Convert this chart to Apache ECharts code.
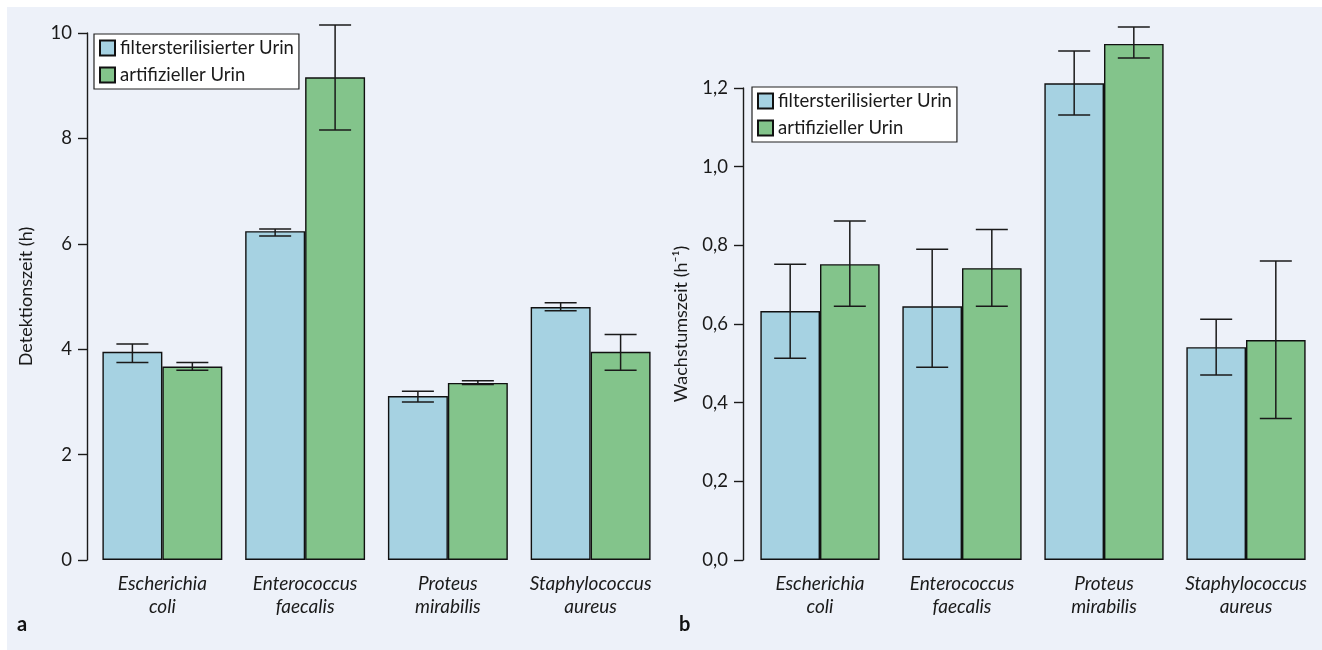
<!DOCTYPE html>
<html>
<head>
<meta charset="utf-8">
<script src="https://cdn.jsdelivr.net/npm/echarts@6/dist/echarts.min.js"></script>
<style>
  html, body { margin: 0; padding: 0; background: #fff; }
  #chart { width: 1322px; height: 650px; }
</style>
</head>
<body>
<div id="chart"></div>
<script>
// Kategorien (Bakterien)
var categories = ['Escherichia\ncoli', 'Enterococcus\nfaecalis', 'Proteus\nmirabilis', 'Staphylococcus\naureus'];
var seriesNames = ['filtersterilisierter Urin', 'artifizieller Urin'];

// Panel a: Detektionszeit (h)
var detFilter = [3.95, 6.24, 3.11, 4.80];
var detFilterLo = [3.75, 6.15, 3.00, 4.73];
var detFilterHi = [4.10, 6.28, 3.20, 4.88];
var detArtif = [3.67, 9.16, 3.36, 3.95];
var detArtifLo = [3.60, 8.16, 3.33, 3.60];
var detArtifHi = [3.75, 10.15, 3.40, 4.28];
var detTicks = [0, 2, 4, 6, 8, 10];

// Panel b: Wachstumszeit (h^-1)
var wachFilter = [0.633, 0.645, 1.212, 0.541];
var wachFilterLo = [0.513, 0.490, 1.131, 0.470];
var wachFilterHi = [0.752, 0.790, 1.294, 0.612];
var wachArtif = [0.752, 0.742, 1.312, 0.559];
var wachArtifLo = [0.645, 0.645, 1.276, 0.360];
var wachArtifHi = [0.862, 0.840, 1.355, 0.760];
var wachTicks = [0, 0.2, 0.4, 0.6, 0.8, 1.0, 1.2];

var BLUE = '#a6d2e2';
var GREEN = '#83c48b';
var FONT = 'Lato';
var INK = '#1a1a1a';
var GAP = 0.16; // barCategoryGap

var chart = echarts.init(document.getElementById('chart'));

// Fehlerbalken als custom series, side: -1 = linker Balken, +1 = rechter Balken
function errorSeries(name, lo, hi, side, xIdx, yIdx) {
    var data = [];
    for (var i = 0; i < lo.length; i++) {
        data.push([i, lo[i], hi[i]]);
    }
    return {
        name: name + '_err',
        type: 'custom',
        xAxisIndex: xIdx,
        yAxisIndex: yIdx,
        clip: false,
        silent: true,
        z: 5,
        data: data,
        renderItem: function (params, api) {
            var bandW = api.size([1, 0])[0];
            var barW = bandW * (1 - GAP) / 2;
            var low = api.coord([api.value(0), api.value(1)]);
            var high = api.coord([api.value(0), api.value(2)]);
            var x = low[0] + side * barW / 2;
            var cap = 16;
            var st = { stroke: '#1a1a1a', lineWidth: 1.5 };
            return {
                type: 'group',
                children: [
                    { type: 'line', shape: { x1: x, y1: high[1], x2: x, y2: low[1] }, style: st },
                    { type: 'line', shape: { x1: x - cap, y1: high[1], x2: x + cap, y2: high[1] }, style: st },
                    { type: 'line', shape: { x1: x - cap, y1: low[1], x2: x + cap, y2: low[1] }, style: st }
                ]
            };
        }
    };
}

function barSeries(name, values, color, xIdx, yIdx) {
    return {
        name: name,
        type: 'bar',
        xAxisIndex: xIdx,
        yAxisIndex: yIdx,
        data: values,
        barGap: '0%',
        barCategoryGap: (GAP * 100) + '%',
        itemStyle: { color: color, borderColor: '#111', borderWidth: 1.4 },
        emphasis: { disabled: true }
    };
}

function catAxis(gridIndex) {
    return {
        type: 'category',
        gridIndex: gridIndex,
        data: categories,
        axisLine: { show: false },
        axisTick: { show: false },
        axisLabel: {
            color: INK,
            fontFamily: FONT,
            fontStyle: 'italic',
            fontSize: 19,
            lineHeight: 23,
            margin: 12,
            interval: 0
        }
    };
}

function legendAt(left, top) {
    return {
        data: seriesNames,
        orient: 'vertical',
        left: left, top: top,
        icon: 'rect', itemWidth: 15, itemHeight: 15, itemGap: 7,
        padding: [4, 5, 4, 5],
        backgroundColor: '#fff', borderColor: '#222', borderWidth: 1.2, borderRadius: 0,
        textStyle: { fontFamily: FONT, fontSize: 18.5, lineHeight: 20, color: INK },
        selectedMode: false
    };
}

var valueAxisStyle = {
    axisLine: { show: true, lineStyle: { color: INK, width: 1.4 } },
    axisTick: { show: true, length: 9, lineStyle: { color: INK, width: 1.4 } },
    splitLine: { show: false },
    nameTextStyle: { color: INK, fontFamily: FONT, fontSize: 18 }
};

var option = {
    backgroundColor: '#ffffff',
    animation: false,
    graphic: [
        { type: 'rect', shape: { x: 7, y: 7, width: 1315, height: 643 }, style: { fill: '#edf1f9' }, z: -10 }
    ],
    title: [
        { text: 'a', left: 12, top: 610, textStyle: { fontFamily: FONT, fontWeight: 'bold', fontSize: 20, color: '#111' } },
        { text: 'b', left: 674, top: 610, textStyle: { fontFamily: FONT, fontWeight: 'bold', fontSize: 20, color: '#111' } }
    ],
    legend: [legendAt(94, 34), legendAt(752, 87)],
    grid: [
        { left: 91, width: 571, top: 33, bottom: 90 },
        { left: 749, width: 568, top: 9.3, bottom: 90 },
        { left: 743, width: 10, top: 88, bottom: 90 }
    ],
    xAxis: [
        catAxis(0),
        catAxis(1),
        { type: 'value', gridIndex: 2, show: false }
    ],
    yAxis: [
        Object.assign({
            type: 'value', gridIndex: 0, min: 0, max: 10, interval: 2, offset: 4,
            name: 'Detektionszeit (h)', nameLocation: 'middle', nameGap: 52,
            axisLabel: { color: INK, fontFamily: FONT, fontSize: 18.5, margin: 15 }
        }, valueAxisStyle),
        { type: 'value', gridIndex: 1, min: 0, max: 1.4, show: false },
        Object.assign({
            type: 'value', gridIndex: 2, min: 0, max: 1.2, interval: 0.2,
            name: 'Wachstumszeit (h⁻¹)', nameLocation: 'middle', nameGap: 53,
            axisLabel: {
                color: INK, fontFamily: FONT, fontSize: 18.5, margin: 15,
                formatter: function (v) { return v.toFixed(1).replace('.', ','); }
            }
        }, valueAxisStyle)
    ],
    series: [
        barSeries(seriesNames[0], detFilter, BLUE, 0, 0),
        barSeries(seriesNames[1], detArtif, GREEN, 0, 0),
        errorSeries(seriesNames[0], detFilterLo, detFilterHi, -1, 0, 0),
        errorSeries(seriesNames[1], detArtifLo, detArtifHi, 1, 0, 0),
        barSeries(seriesNames[0], wachFilter, BLUE, 1, 1),
        barSeries(seriesNames[1], wachArtif, GREEN, 1, 1),
        errorSeries(seriesNames[0], wachFilterLo, wachFilterHi, -1, 1, 1),
        errorSeries(seriesNames[1], wachArtifLo, wachArtifHi, 1, 1, 1)
    ]
};

chart.setOption(option);
</script>
</body>
</html>
